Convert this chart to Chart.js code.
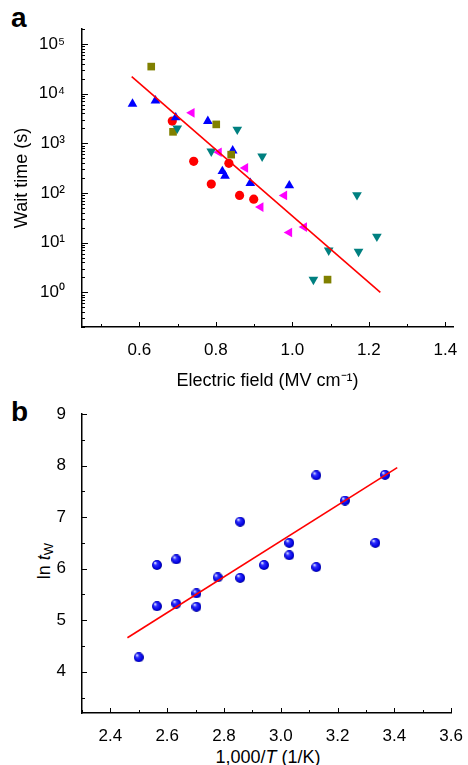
<!DOCTYPE html>
<html>
<head>
<meta charset="utf-8">
<script src="https://cdn.jsdelivr.net/npm/chart.js@4.4.0/dist/chart.umd.min.js"></script>
<style>
body{margin:0;background:#fff;width:468px;height:765px;position:relative;overflow:hidden;font-family:"Liberation Sans",Arial,sans-serif;color:#000}
canvas{position:absolute;left:0}
#chart-a{top:0}
#chart-b{top:390px}
.panel{position:absolute;font-weight:bold;font-size:28px;line-height:1}
.ttl{position:absolute;font-size:18px;line-height:1;white-space:nowrap}
.ttl sub{font-size:13px;vertical-align:-3px}
</style>
</head>
<body>
<div class="panel" style="left:11px;top:4px">a</div>
<div class="panel" style="left:11px;top:398px">b</div>
<div class="ttl" style="left:45px;top:561px;transform:translate(-50%,-50%) rotate(-90deg)">ln <i>t</i><sub>W</sub></div>
<div class="ttl" style="left:268px;top:757px;transform:translate(-50%,-50%)">1,000/<i>T</i> (1/K)</div>
<canvas id="chart-a" width="468" height="396"></canvas>
<canvas id="chart-b" width="468" height="375"></canvas>
<script>
// panel a: wait time vs electric field, five sample groups
const redField = [0.686, 0.742, 0.788, 0.834, 0.862, 0.899];
const redWait = [2800, 434, 151, 395, 89, 75];
const blueField = [0.582, 0.642, 0.695, 0.779, 0.844, 0.817, 0.824, 0.890, 0.992];
const blueWait = [6200, 7200, 3300, 2800, 710, 273, 220, 158, 141];
const magentaField = [0.737, 0.808, 0.877, 0.917, 0.979, 0.992, 1.031];
const magentaWait = [4100, 660, 319, 52, 89, 16, 20.6];
const tealField = [0.699, 0.788, 0.856, 0.921, 1.169, 1.221, 1.095, 1.173, 1.055];
const tealWait = [2000, 690, 1900, 546, 91, 13.3, 7, 6.6, 1.8];
const oliveField = [0.631, 0.688, 0.801, 0.840, 1.092];
const oliveWait = [35000, 1700, 2400, 590, 1.8];
const fitAField = [0.58, 1.23];
const fitAWait = [22000, 1.0];
const fieldTicks = [0.6, 0.8, 1.0, 1.2, 1.4];
const waitTicks = [1, 10, 100, 1000, 10000, 100000];

// panel b: ln tW vs 1000/T
const invTemp = [2.500, 2.564, 2.564, 2.632, 2.632, 2.703, 2.703, 2.778, 2.857, 2.857, 2.941, 3.030, 3.030, 3.125, 3.125, 3.226, 3.333, 3.367];
const lnWait = [4.28, 6.07, 5.27, 6.18, 5.32, 5.52, 5.26, 5.83, 6.91, 5.82, 6.07, 6.50, 6.26, 6.03, 7.81, 7.32, 6.50, 7.82];
const fitBTemp = [2.46, 3.41];
const fitBLn = [4.66, 7.96];
const tempTicks = [2.4, 2.6, 2.8, 3.0, 3.2, 3.4, 3.6];
const lnTicks = [4, 5, 6, 7, 8, 9];

const family = '"Liberation Sans", Arial, sans-serif';
const font = {family: family, size: 17};
const titleFont = {family: family, size: 18};
const sup = ['⁰', '¹', '²', '³', '⁴', '⁵'];
const pts = (xs, ys) => xs.map((x, i) => ({x: x, y: ys[i]}));

// tick marks point into the plot, drawn by hand
const innerTicks = {
  id: 'innerTicks',
  beforeDatasetsDraw(chart, args, o) {
    const ctx = chart.ctx, a = chart.chartArea, sx = chart.scales.x, sy = chart.scales.y;
    ctx.save();
    ctx.strokeStyle = '#000';
    ctx.lineWidth = 1;
    ctx.beginPath();
    o.x.forEach(t => {
      const p = Math.round(sx.getPixelForValue(t[0])) + 0.5;
      ctx.moveTo(p, a.bottom); ctx.lineTo(p, a.bottom - t[1]);
    });
    o.y.forEach(t => {
      const p = Math.round(sy.getPixelForValue(t[0])) + 0.5;
      ctx.moveTo(a.left, p); ctx.lineTo(a.left + t[1], p);
    });
    ctx.stroke();
    ctx.restore();
  }
};

function linTicks(min, max, step, isMajor) {
  const out = [];
  const n = Math.round((max - min) / step);
  for (let i = 0; i <= n; i++) {
    const v = +(min + i * step).toFixed(6);
    out.push([v, isMajor(v) ? 5 : 3]);
  }
  return out;
}
function logTicks(min, max) {
  const out = [];
  for (let e = -1; e <= 5; e++) {
    for (let k = 1; k <= 9; k++) {
      const v = k * Math.pow(10, e);
      if (v >= min * 0.999 && v <= max * 1.001) out.push([v, k === 1 ? 6 : 3]);
    }
  }
  return out;
}

function sphere(size) {
  const c = document.createElement('canvas');
  c.width = c.height = size;
  const g = c.getContext('2d'), m = size / 2, r = size / 2;
  const grad = g.createRadialGradient(m - r * 0.4, m - r * 0.45, r * 0.08, m, m, r);
  grad.addColorStop(0, '#dde4ff');
  grad.addColorStop(0.3, '#3030ff');
  grad.addColorStop(0.8, '#0000e0');
  grad.addColorStop(1, '#00008a');
  g.fillStyle = grad;
  g.beginPath(); g.arc(m, m, r, 0, Math.PI * 2); g.fill();
  return c;
}

function marker(label, color, style, rot, radius, data) {
  return {label: label, data: data, pointStyle: style, rotation: rot, pointRadius: radius,
    backgroundColor: color, borderColor: color, borderWidth: 0};
}
function axis(opts) {
  return Object.assign({
    grid: {display: false},
    border: {display: true, color: '#000', width: 1.5}
  }, opts);
}
const common = {
  responsive: false,
  animation: false,
  plugins: {legend: {display: false}, tooltip: {enabled: false}}
};

new Chart(document.getElementById('chart-a'), {
  type: 'scatter',
  data: {
    datasets: [
      {label: 'fit', data: pts(fitAField, fitAWait), showLine: true, borderColor: '#ff0000', borderWidth: 1.6, pointRadius: 0},
      marker('teal', '#008080', 'triangle', 180, 5.6, pts(tealField, tealWait)),
      marker('olive', '#808000', 'rect', 0, 5.4, pts(oliveField, oliveWait)),
      marker('blue', '#0000ff', 'triangle', 0, 5.6, pts(blueField, blueWait)),
      marker('red', '#ff0000', 'circle', 0, 4.6, pts(redField, redWait)),
      marker('magenta', '#ff00ff', 'triangle', -90, 5.6, pts(magentaField, magentaWait))
    ]
  },
  options: Object.assign({}, common, {
    layout: {padding: {top: 29, right: 15, left: 0, bottom: 0}},
    plugins: Object.assign({}, common.plugins, {
      innerTicks: {
        x: linTicks(0.5, 1.4, 0.1, v => Math.round(v * 10) % 2 === 0),
        y: logTicks(0.2, 2e5)
      }
    }),
    scales: {
      x: axis({
        type: 'linear', min: 0.45, max: 1.42,
        afterBuildTicks: s => { s.ticks = fieldTicks.map(v => ({value: v})); },
        afterFit: s => { s.height = 69; },
        ticks: {font: font, color: '#000', padding: 5, maxRotation: 0, autoSkip: false, callback: v => v.toFixed(1)},
        title: {display: true, text: 'Electric field (MV cm⁻¹)', color: '#000', font: titleFont, padding: {top: 0, bottom: 4}}
      }),
      y: axis({
        type: 'logarithmic', min: 0.2, max: 2e5,
        afterBuildTicks: s => { s.ticks = waitTicks.map(v => ({value: v})); },
        afterFit: s => { s.width = 82; },
        ticks: {font: font, color: '#000', padding: 9, autoSkip: false, callback: v => '10' + sup[Math.round(Math.log10(v))]},
        title: {display: true, text: 'Wait time (s)', color: '#000', font: titleFont, padding: {top: 11, bottom: 0}}
      })
    }
  }),
  plugins: [innerTicks]
});

new Chart(document.getElementById('chart-b'), {
  type: 'scatter',
  data: {
    datasets: [
      {label: 'fit', data: pts(fitBTemp, fitBLn), showLine: true, borderColor: '#ff0000', borderWidth: 1.6, pointRadius: 0},
      {label: 'ln tW', data: pts(invTemp, lnWait), pointStyle: sphere(10), pointRadius: 5}
    ]
  },
  options: Object.assign({}, common, {
    layout: {padding: {top: 24, right: 14, left: 0, bottom: 0}},
    plugins: Object.assign({}, common.plugins, {
      innerTicks: {
        x: linTicks(2.3, 3.6, 0.1, v => Math.round(v * 10) % 2 === 0),
        y: linTicks(3.5, 9, 0.5, v => v % 1 === 0)
      }
    }),
    scales: {
      x: axis({
        type: 'linear', min: 2.3, max: 3.6,
        afterBuildTicks: s => { s.ticks = tempTicks.map(v => ({value: v})); },
        afterFit: s => { s.height = 52; },
        ticks: {font: font, color: '#000', padding: 5, maxRotation: 0, autoSkip: false, callback: v => v.toFixed(1)}
      }),
      y: axis({
        type: 'linear', min: 3.2, max: 9,
        afterBuildTicks: s => { s.ticks = lnTicks.map(v => ({value: v})); },
        afterFit: s => { s.width = 82; },
        ticks: {font: font, color: '#000', padding: 8, autoSkip: false, callback: v => String(v)}
      })
    }
  }),
  plugins: [innerTicks]
});
</script>
</body>
</html>
